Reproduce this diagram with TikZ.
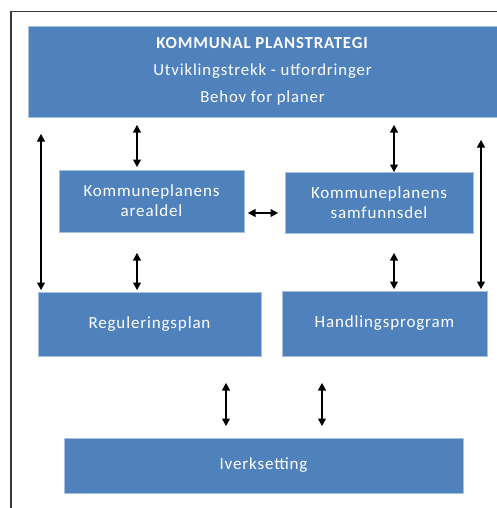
\documentclass[tikz,border=0pt]{standalone}
\usepackage{fontspec}
\setmainfont{Carlito}
\newfontfamily\calls[LetterSpace=5]{Carlito}
\usetikzlibrary{arrows.meta}
\definecolor{boxblue}{HTML}{4F81BD}
\definecolor{boxedge}{HTML}{A7C0DE}
\definecolor{framegray}{HTML}{3A3A3A}
\tikzset{
  box/.style={rectangle, fill=boxblue, draw=boxedge, line width=0.8pt, text=white,
    inner sep=0pt, outer sep=0pt, align=center, font=\calls\fontsize{17}{20}\selectfont},
  arr/.style={{Triangle[width=8pt,length=7.5pt]}-{Triangle[width=8pt,length=7.5pt]}, line width=1.1pt, black}
}
\begin{document}
\begin{tikzpicture}[x=1pt,y=-1pt]
\useasboundingbox (0,0) rectangle (497,508);
\fill[white] (0,0) rectangle (497,508);
\draw[framegray, line width=1.6pt] (11,508) -- (11,11.5) -- (497,11.5);

\node[box, minimum width=469pt, minimum height=91pt, font=\calls\fontsize{16.8}{27}\selectfont] (top) at (262.5,71.5)
  {\textbf{KOMMUNAL PLANSTRATEGI}\\Utviklingstrekk - utfordringer\\Behov for planer};
\node[box, minimum width=185pt, minimum height=62pt] (area) at (151.5,201) {Kommuneplanens\\arealdel};
\node[box, minimum width=188pt, minimum height=61pt] (samf) at (379,202.5) {Kommuneplanens\\samfunnsdel};
\node[box, minimum width=223pt, minimum height=64pt] (regul) at (149.5,324) {Reguleringsplan};
\node[box, minimum width=205pt, minimum height=65pt] (hand) at (384.5,323.5) {Handlingsprogram};
\node[box, minimum width=399pt, minimum height=55pt] (iverk) at (263.5,465.5) {Iverksetting};

\draw[arr, shorten <=17pt, shorten >=2pt] (top.south -| 41,0) -- (regul.north -| 41,0);
\draw[arr, shorten <=23pt, shorten >=2pt] (top.south -| 481,0) -- (hand.north -| 481,0);
\draw[arr, shorten <=8pt, shorten >=3pt] (top.south -| 137,0) -- (area.north -| 137,0);
\draw[arr, shorten <=8pt] (top.south -| 394,0) -- (samf.north -| 394,0);
\draw[arr, shorten <=21pt, shorten >=2pt] (area.south -| 137,0) -- (regul.north -| 137,0);
\draw[arr, shorten <=20pt, shorten >=2pt] (samf.south -| 394,0) -- (hand.north -| 394,0);
\draw[arr, shorten <=4pt, shorten >=7pt] (area.east |- 0,213) -- (samf.west |- 0,213);
\draw[arr, shorten <=27pt, shorten >=12pt] (regul.south -| 226,0) -- (iverk.north -| 226,0);
\draw[arr, shorten <=27pt, shorten >=12pt] (hand.south -| 322,0) -- (iverk.north -| 322,0);
\end{tikzpicture}
\end{document}
